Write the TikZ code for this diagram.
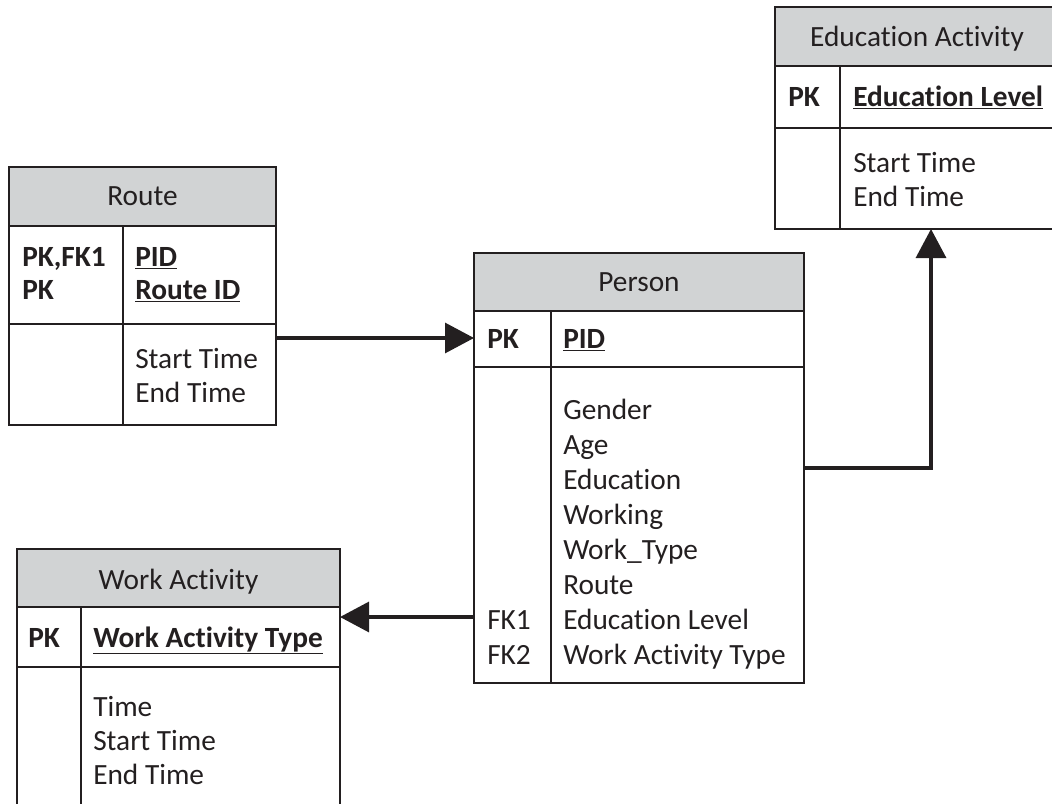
\documentclass[tikz,border=0pt]{standalone}
\usepackage{fontspec}
\setmainfont{Carlito}[Ligatures=NoCommon]
\usetikzlibrary{arrows.meta}
\definecolor{ink}{HTML}{231F20}
\definecolor{headfill}{HTML}{D1D3D4}
\begin{document}
\begin{tikzpicture}[x=0.75pt,y=-0.75pt,
  frame/.style={draw=ink, line width=1.6pt, inner sep=0pt, outer sep=0pt, anchor=north west},
  rule/.style={draw=ink, line width=1.6pt},
  txt/.style={inner sep=0pt, text=ink, font=\fontsize{22}{26}\selectfont, anchor=base west},
  ttl/.style={txt, anchor=base},
  pkey/.style={txt, font=\fontsize{22}{26}\selectfont\bfseries},
  conn/.style={draw=ink, line width=2.4pt, -{Triangle[length=21.75pt,width=22.5pt]}}]
\clip (0,0) rectangle (1052,803);

% ---------------- Route ----------------
\fill[headfill] (9,167) rectangle (276,226);
\node[frame, minimum width=200.25pt, minimum height=193.5pt] (route) at (9,167) {};
\draw[rule] (route.west |- 0,226) -- (route.east |- 0,226);
\draw[rule] (route.west |- 0,324) -- (route.east |- 0,324);
\draw[rule] (123,226) -- (route.south -| 123,0);
\node[ttl] (routeT) at (142.5,205) {Route};
\node[pkey] (routeK1) at (22,266) {PK,FK1};
\node[pkey] (routeK2) at (22,299) {PK};
\node[pkey] (routeA1) at (135,266) {\underline{PID}};
\node[pkey] (routeA2) at (135,299) {\underline{Route ID}};
\node[txt] (routeB1) at (135,368) {Start Time};
\node[txt] (routeB2) at (135,402) {End Time};

% ---------------- Person ----------------
\fill[headfill] (474,253) rectangle (804,311);
\node[frame, minimum width=247.5pt, minimum height=322.5pt] (person) at (474,253) {};
\draw[rule] (person.west |- 0,311) -- (person.east |- 0,311);
\draw[rule] (person.west |- 0,367) -- (person.east |- 0,367);
\draw[rule] (551,311) -- (person.south -| 551,0);
\node[ttl] (personT) at (639,291) {Person};
\node[pkey] (personK) at (487,348) {PK};
\node[pkey] (personA) at (563,348) {\underline{PID}};
\foreach \t [count=\i from 0] in {Gender,Age,Education,Working,Work\_Type,Route,Education Level,Work Activity Type}
  \node[txt] (personB\i) at (563,419+35*\i) {\t};
\node[txt] (personF1) at (487,629) {FK1};
\node[txt] (personF2) at (487,664) {FK2};

% ---------------- Education Activity (runs past the right margin) ----------------
\fill[headfill] (775,7) rectangle (1080,66);
\node[frame, minimum width=228.75pt, minimum height=166.5pt] (edu) at (775,7) {};
\draw[rule] (edu.west |- 0,66) -- (edu.east |- 0,66);
\draw[rule] (edu.west |- 0,128) -- (edu.east |- 0,128);
\draw[rule] (840,66) -- (edu.south -| 840,0);
\node[ttl] (eduT) at (917,46) {Education Activity};
\node[pkey] (eduK) at (788,106) {PK};
\node[pkey] (eduA) at (853,106) {\underline{Education Level}};
\node[txt] (eduB1) at (853,172) {Start Time};
\node[txt] (eduB2) at (853,206) {End Time};

% ---------------- Work Activity (runs past the bottom margin) ----------------
\fill[headfill] (17,549) rectangle (340,607);
\node[frame, minimum width=242.25pt, minimum height=240pt] (work) at (17,549) {};
\draw[rule] (work.west |- 0,607) -- (work.east |- 0,607);
\draw[rule] (work.west |- 0,667) -- (work.east |- 0,667);
\draw[rule] (81,607) -- (work.south -| 81,0);
\node[ttl] (workT) at (178.5,589) {Work Activity};
\node[pkey] (workK) at (28,647) {PK};
\node[pkey] (workA) at (93,647) {\underline{Work Activity Type}};
\node[txt] (workB1) at (93,716) {Time};
\node[txt] (workB2) at (93,750) {Start Time};
\node[txt] (workB3) at (93,784) {End Time};

% ---------------- relationships ----------------
\coordinate (r2p) at (0,338);
\coordinate (p2e) at (931,468);
\coordinate (p2w) at (0,617);
\draw[conn] (route.east |- r2p) -- (person.west |- r2p);
\draw[conn] (person.east |- p2e) -| (edu.south -| p2e);
\draw[conn] (person.west |- p2w) -- (work.east |- p2w);
\end{tikzpicture}
\end{document}
